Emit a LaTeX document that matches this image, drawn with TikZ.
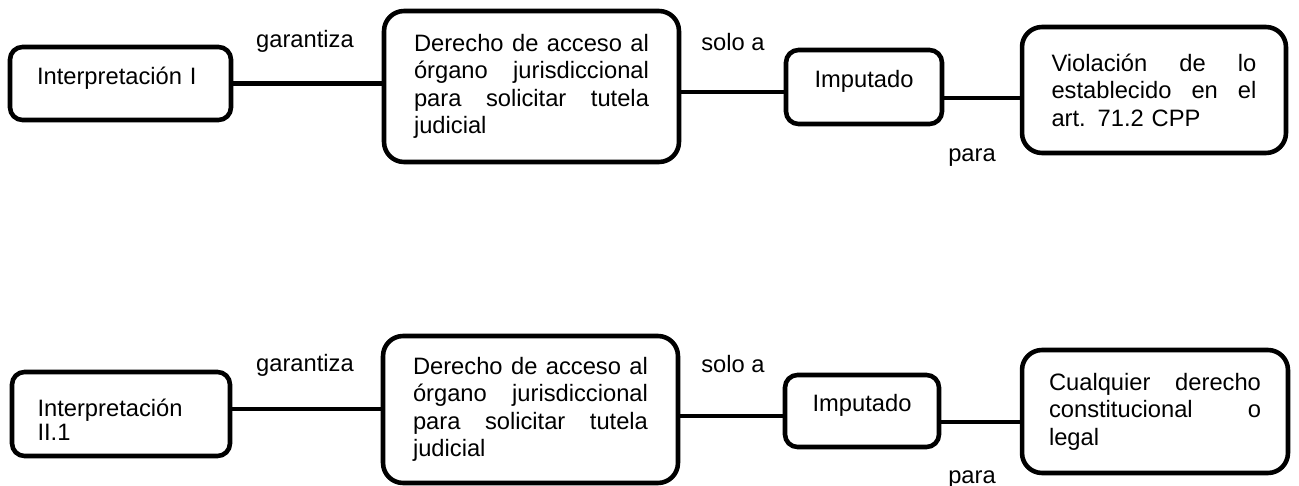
\documentclass[tikz,border=0pt]{standalone}
\usepackage{fontspec}
\setmainfont{Liberation Sans}

\begin{document}
\begin{tikzpicture}[x=0.02cm, y=-0.02cm,
    box/.style={draw=black, line width=2.6pt, rounded corners=0.25cm, inner sep=0pt, font=\fontsize{13.5}{15.6}\selectfont},
    bigbox/.style={box, rounded corners=0.4cm, align=left},
    conn/.style={line width=2.6pt},
    lbl/.style={anchor=base, inner sep=0pt, font=\fontsize{13.5}{15.6}\selectfont}]

    \useasboundingbox (0,0) rectangle (1299,486);

    \node[box, align=left, text width=3.34cm, minimum width=4.42cm, minimum height=1.46cm] at (120.5,83.5) (intA) {\raisebox{3pt}[\height][\depth]{Interpretación I}};
    \node[bigbox, text width=4.7cm, minimum width=5.9cm, minimum height=3.02cm] at (531.5,86.5) (derA) {Derecho \hfill de \hfill acceso \hfill al\\ órgano \hfill jurisdiccional\\ para \hfill solicitar \hfill tutela\\ judicial};
    \node[box, align=center, minimum width=3.12cm, minimum height=1.48cm] at (864,87) (impA) {\raisebox{3pt}[\height][\depth]{Imputado}};
    \node[bigbox, text width=4.1cm, minimum width=5.28cm, minimum height=2.52cm] at (1154,90) (vioA) {Violación \hfill de \hfill lo\\ establecido \hfill en \hfill el\\ art. 71.2 CPP};

    \draw[conn] (intA.east) -- (intA.east -| derA.west);
    \draw[conn] (derA.east |- 0,92) -- (impA.west |- 0,92);
    \draw[conn] (impA.east |- 0,98) -- (vioA.west |- 0,98);

    \node[lbl] at (305,48) (garA) {garantiza};
    \node[lbl] at (733,51) (solA) {solo a};
    \node[lbl] at (972,162) (parA) {para};

    \node[box, align=left, text width=3.34cm, minimum width=4.36cm, minimum height=1.68cm] at (121,414) (intB) {\raisebox{-3.5pt}[\height][\depth]{Interpretación}\\[-2pt] \raisebox{-3.5pt}[\height][\depth]{II.1}};
    \node[bigbox, text width=4.7cm, minimum width=5.9cm, minimum height=2.94cm] at (530.5,409.5) (derB) {Derecho \hfill de \hfill acceso \hfill al\\ órgano \hfill jurisdiccional\\ para \hfill solicitar \hfill tutela\\ judicial};
    \node[box, align=center, minimum width=3.08cm, minimum height=1.44cm] at (862,411) (impB) {\raisebox{3pt}[\height][\depth]{Imputado}};
    \node[bigbox, text width=4.24cm, minimum width=5.32cm, minimum height=2.46cm] at (1155,411.5) (cuaB) {Cualquier \hfill derecho\\ constitucional \hfill o\\ legal};

    \draw[conn] (intB.east |- 0,409) -- (derB.west |- 0,409);
    \draw[conn] (derB.east |- 0,416) -- (impB.west |- 0,416);
    \draw[conn] (impB.east |- 0,422) -- (cuaB.west |- 0,422);

    \node[lbl] at (305,372) (garB) {garantiza};
    \node[lbl] at (733,373) (solB) {solo a};
    \node[lbl] at (972,483) (parB) {para};

\end{tikzpicture}
\end{document}
